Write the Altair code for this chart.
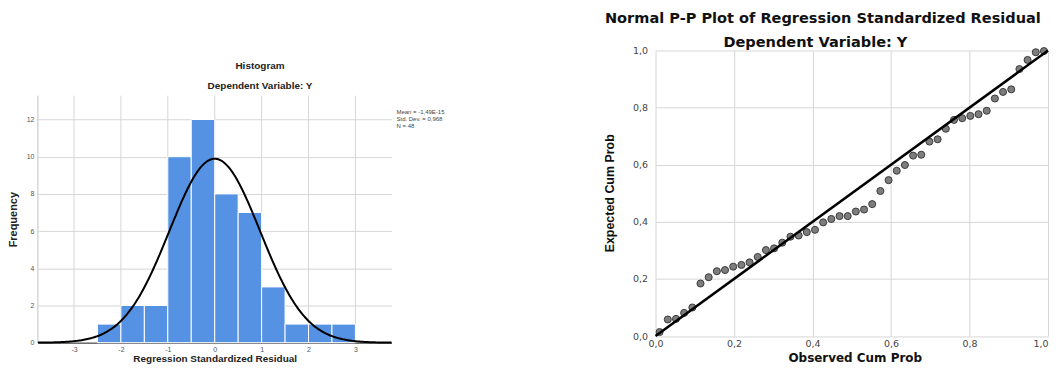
import altair as alt
import pandas as pd
import numpy as np

# ---------------- Histogram data ----------------
BIN_START = [-2.5, -2.0, -1.5, -1.0, -0.5, 0.0, 0.5, 1.0, 1.5, 2.0, 2.5]
BIN_COUNT = [1, 2, 2, 10, 12, 8, 7, 3, 1, 1, 1]
BIN_WIDTH = 0.5
MEAN = -1.49e-15
SD = 0.968
N = 48
HIST_X_TICKS = [-3, -2, -1, 0, 1, 2, 3]
HIST_Y_TICKS = [0, 2, 4, 6, 8, 10, 12]
STATS_TEXT = ["Mean = -1,49E-15", "Std. Dev. = 0,968", "N = 48"]
HIST_X_DOMAIN = [-3.77, 3.77]
HIST_Y_TOP = 13.28

# ---------------- P-P plot data ----------------
OBSERVED = [0.0104, 0.0313, 0.0521, 0.0729, 0.0938, 0.1146, 0.1354, 0.1563,
            0.1771, 0.1979, 0.2188, 0.2396, 0.2604, 0.2813, 0.3021, 0.3229,
            0.3438, 0.3646, 0.3854, 0.4063, 0.4271, 0.4479, 0.4688, 0.4896,
            0.5104, 0.5313, 0.5521, 0.5729, 0.5938, 0.6146, 0.6354, 0.6563,
            0.6771, 0.6979, 0.7188, 0.7396, 0.7604, 0.7813, 0.8021, 0.8229,
            0.8438, 0.8646, 0.8854, 0.9063, 0.9271, 0.9479, 0.9688, 0.9896]
EXPECTED = [0.014, 0.058, 0.060, 0.081, 0.100,
            0.184, 0.206, 0.227, 0.231, 0.243, 0.249, 0.258,
            0.277, 0.301, 0.307, 0.327, 0.348, 0.352, 0.364, 0.372,
            0.398, 0.410, 0.420, 0.420, 0.436, 0.443, 0.462,
            0.508, 0.546, 0.579, 0.599, 0.632, 0.635, 0.681, 0.689,
            0.726, 0.757, 0.763, 0.771, 0.777, 0.789,
            0.832, 0.855, 0.864, 0.935, 0.967, 0.994, 0.998]
PP_TICKS = [0.0, 0.2, 0.4, 0.6, 0.8, 1.0]
DIAG = [0.0, 1.0]

# ---------------- Tables ----------------
hist_df = pd.DataFrame({
    "x": BIN_START,
    "x2": [s + BIN_WIDTH for s in BIN_START],
    "y": BIN_COUNT,
    "y0": [0.0] * len(BIN_START),
})
curve_x = np.linspace(HIST_X_DOMAIN[0], HIST_X_DOMAIN[1], 301)
curve_y = N * BIN_WIDTH * np.exp(-0.5 * ((curve_x - MEAN) / SD) ** 2) / (SD * np.sqrt(2 * np.pi))
curve_df = pd.DataFrame({"x": curve_x, "y": curve_y})
gridx_df = pd.DataFrame({"x": HIST_X_TICKS, "y": 0.0, "y2": HIST_Y_TOP})
yaxis_df = pd.DataFrame({"x": [HIST_X_DOMAIN[0]], "y": [0.0], "y2": [HIST_Y_TOP]})
pp_df = pd.DataFrame({"x": OBSERVED, "y": EXPECTED})
diag_df = pd.DataFrame({"x": DIAG, "y": DIAG})

LW, LH = 355, 293.3
RW, RH = 394, 286.6

# ---------------- Histogram panel ----------------
xs_L = alt.Scale(domain=HIST_X_DOMAIN, nice=False, zero=False)
ys_L = alt.Scale(domain=[0, 15.71], nice=False, zero=True)
x_axis_L = alt.Axis(
    values=HIST_X_TICKS, labelExpr="toString(datum.value)", grid=False, ticks=False,
    domain=True, domainColor="#333333", labelFont="Liberation Sans", labelFontSize=7,
    labelColor="#555555", labelPadding=3, labelOverlap=False, labelFlush=False,
    title="Regression Standardized Residual", titleFont="Liberation Sans",
    titleFontSize=10, titleFontWeight="bold", titleColor="#222222",
    titleBaseline="alphabetic", titleX=177.5, titleY=18.5)
y_axis_L = alt.Axis(
    values=HIST_Y_TICKS, grid=True, gridColor="#d6d6d6", domain=False, ticks=False,
    labelFont="Liberation Sans", labelFontSize=7, labelColor="#555555", labelPadding=4,
    labelOverlap=False, labelFlush=False,
    title="Frequency", titleFont="Liberation Sans", titleFontSize=11,
    titleFontWeight="bold", titleColor="#222222", titleAngle=270,
    titleBaseline="middle", titleX=-24, titleY=169.3)
XL = alt.X("x:Q", scale=xs_L, axis=x_axis_L)
YL = alt.Y("y:Q", scale=ys_L, axis=y_axis_L)

grid_rules = alt.Chart(gridx_df).mark_rule(color="#d6d6d6", strokeWidth=1).encode(
    x=XL, y=YL, y2="y2:Q")
yaxis_rule = alt.Chart(yaxis_df).mark_rule(color="#c4c4c4", strokeWidth=1).encode(
    x=XL, y=YL, y2="y2:Q")
bars = alt.Chart(hist_df).mark_rect(color="#5592E4", stroke="white", strokeWidth=1).encode(
    x=XL, x2="x2:Q", y=YL, y2="y0:Q")
curve = alt.Chart(curve_df).mark_line(color="black", strokeWidth=2).encode(x=XL, y=YL)
h_title = alt.Chart(pd.DataFrame({"t": ["Histogram"]})).mark_text(
    font="Liberation Sans", fontSize=10, fontWeight="bold", color="#222222",
    align="center", baseline="middle").encode(
    text="t:N", x=alt.value(223), y=alt.value(16))
h_sub = alt.Chart(pd.DataFrame({"t": ["Dependent Variable: Y"]})).mark_text(
    font="Liberation Sans", fontSize=10, fontWeight="bold", color="#222222",
    align="center", baseline="middle").encode(
    text="t:N", x=alt.value(223), y=alt.value(36))
stats = alt.Chart(pd.DataFrame({"k": [0]})).mark_text(
    text=STATS_TEXT, font="Liberation Sans", fontSize=6, color="#444444", align="left",
    baseline="middle", lineHeight=7).encode(x=alt.value(360), y=alt.value(62))

left = alt.layer(grid_rules, yaxis_rule, bars, curve, h_title, h_sub, stats).properties(
    width=LW, height=LH)

# ---------------- P-P plot panel ----------------
lab_expr = "replace(format(datum.value, '.1f'), '.', ',')"
xs_R = alt.Scale(domain=[0, 1], nice=False)
ys_R = alt.Scale(domain=[0, 1], nice=False)
x_axis_R = alt.Axis(
    values=PP_TICKS, labelExpr=lab_expr, grid=True, gridColor="#d6d6d6",
    domain=False, ticks=False, labelFont="DejaVu Sans", labelFontSize=9.5,
    labelColor="#444444", labelPadding=3, labelOverlap=False, labelFlush=False,
    labelAlign={"condition": {"test": "datum.value >= 1", "value": "right"}, "value": "center"},
    title="Observed Cum Prob", titleFont="DejaVu Sans", titleFontSize=12,
    titleFontWeight="bold", titleColor="#111111", titleBaseline="alphabetic",
    titleX=200, titleY=25.7)
y_axis_R = alt.Axis(
    values=PP_TICKS, labelExpr=lab_expr, grid=True, gridColor="#d6d6d6",
    domain=False, ticks=False, labelFont="DejaVu Sans", labelFontSize=9.5,
    labelColor="#444444", labelPadding=8, labelOverlap=False, labelFlush=False,
    title="Expected Cum Prob", titleFont="Liberation Sans", titleFontSize=12.5,
    titleFontWeight="bold", titleColor="#111111", titleAngle=270,
    titleBaseline="middle", titleX=-46.5, titleY=142.8)
XR = alt.X("x:Q", scale=xs_R, axis=x_axis_R)
YR = alt.Y("y:Q", scale=ys_R, axis=y_axis_R)

points = alt.Chart(pp_df).mark_point(
    filled=True, shape="circle", size=50, fill="#7d7d7d", stroke="#3a3a3a",
    strokeWidth=1, opacity=1).encode(x=XR, y=YR)
diag = alt.Chart(diag_df).mark_line(color="black", strokeWidth=2.5).encode(x=XR, y=YR)
r_title = alt.Chart(pd.DataFrame({"t": ["Normal P-P Plot of Regression Standardized Residual"]})).mark_text(
    font="DejaVu Sans", fontSize=14.6, fontWeight="bold", color="#111111",
    align="center", baseline="alphabetic").encode(
    text="t:N", x=alt.value(168), y=alt.value(-28))
r_sub = alt.Chart(pd.DataFrame({"t": ["Dependent Variable: Y"]})).mark_text(
    font="DejaVu Sans", fontSize=14.6, fontWeight="bold", color="#111111",
    align="center", baseline="alphabetic").encode(
    text="t:N", x=alt.value(160.5), y=alt.value(-4))

right = alt.layer(points, diag, r_title, r_sub).properties(width=RW, height=RH)

chart = alt.hconcat(left, right, spacing=265, bounds="flush").configure_view(
    stroke=None).properties(
    padding={"left": 0, "top": 2, "right": 0, "bottom": 0}, background="white")

chart.save("out.html", embed_options={"renderer": "svg", "actions": False})
